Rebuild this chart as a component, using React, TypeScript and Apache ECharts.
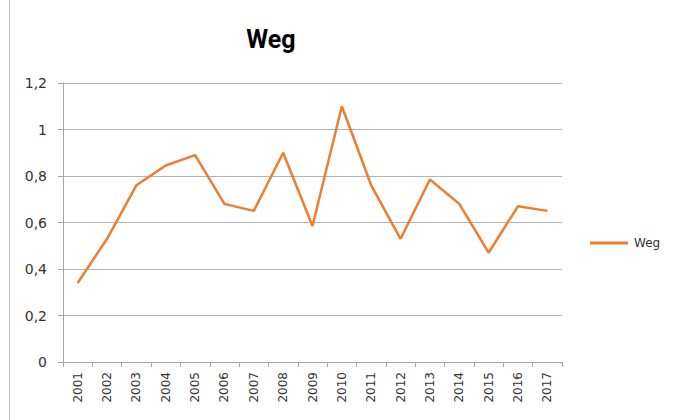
import React, { useEffect, useRef } from "react";
import * as echarts from "echarts";

const years = ["2001","2002","2003","2004","2005","2006","2007","2008","2009","2010","2011","2012","2013","2014","2015","2016","2017"];
const wegValues = [0.34, 0.53, 0.76, 0.845, 0.89, 0.68, 0.65, 0.9, 0.585, 1.1, 0.76, 0.53, 0.785, 0.68, 0.47, 0.67, 0.65];
const seriesName = "Weg";
const titleText = "Weg";

export default function App() {
  const ref = useRef<HTMLDivElement>(null);
  useEffect(() => {
    if (!ref.current) return;
    const chart = echarts.init(ref.current, null, { renderer: "svg" });
    const font = "'DejaVu Sans', sans-serif";
    chart.setOption({
      animation: false,
      backgroundColor: "#ffffff",
      title: {
        text: titleText,
        left: 271,
        top: 27,
        padding: 0,
        textAlign: "center",
        textStyle: { fontFamily: "Roboto, sans-serif", fontSize: 25, fontWeight: "bold", color: "#000000" },
      },
      legend: {
        data: [seriesName],
        left: 590,
        top: 237,
        padding: 0,
        icon: "rect",
        itemWidth: 38,
        itemHeight: 3,
        textStyle: { fontFamily: font, fontSize: 12, color: "#333333", padding: [0, 0, 0, 1] },
      },
      grid: { left: 63, right: 111, top: 83, bottom: 58, containLabel: false },
      xAxis: {
        type: "category",
        data: years,
        boundaryGap: true,
        axisLine: { show: true, lineStyle: { color: "#a6a6a6", width: 1 } },
        axisTick: { show: true, length: 5, alignWithLabel: false, lineStyle: { color: "#a6a6a6" } },
        axisLabel: { rotate: 90, margin: 10, fontFamily: font, fontSize: 12, color: "#333333", interval: 0 },
        splitLine: { show: false },
      },
      yAxis: {
        type: "value",
        min: 0,
        max: 1.2,
        interval: 0.2,
        axisLine: { show: true, lineStyle: { color: "#a6a6a6", width: 1 } },
        axisTick: { show: true, length: 5, lineStyle: { color: "#a6a6a6" } },
        axisLabel: {
          margin: 16,
          fontFamily: font,
          fontSize: 14,
          color: "#333333",
          formatter: (v: number) => String(Math.round(v * 10) / 10).replace(".", ","),
        },
        splitLine: { show: true, lineStyle: { color: "#b4b4b4", width: 1.2 } },
      },
      series: [
        {
          name: seriesName,
          type: "line",
          data: wegValues,
          symbol: "none",
          lineStyle: { color: "#ED7D31", width: 2.5 },
          itemStyle: { color: "#ED7D31" },
        },
      ],
      graphic: [
        {
          type: "line",
          shape: { x1: 9.5, y1: 0, x2: 9.5, y2: 420 },
          style: { stroke: "#bfbfbf", lineWidth: 1 },
        },
      ],
    });
    return () => chart.dispose();
  }, []);
  return <div ref={ref} style={{ width: 673, height: 420, position: "fixed", left: 0, top: 0 }} />;
}
